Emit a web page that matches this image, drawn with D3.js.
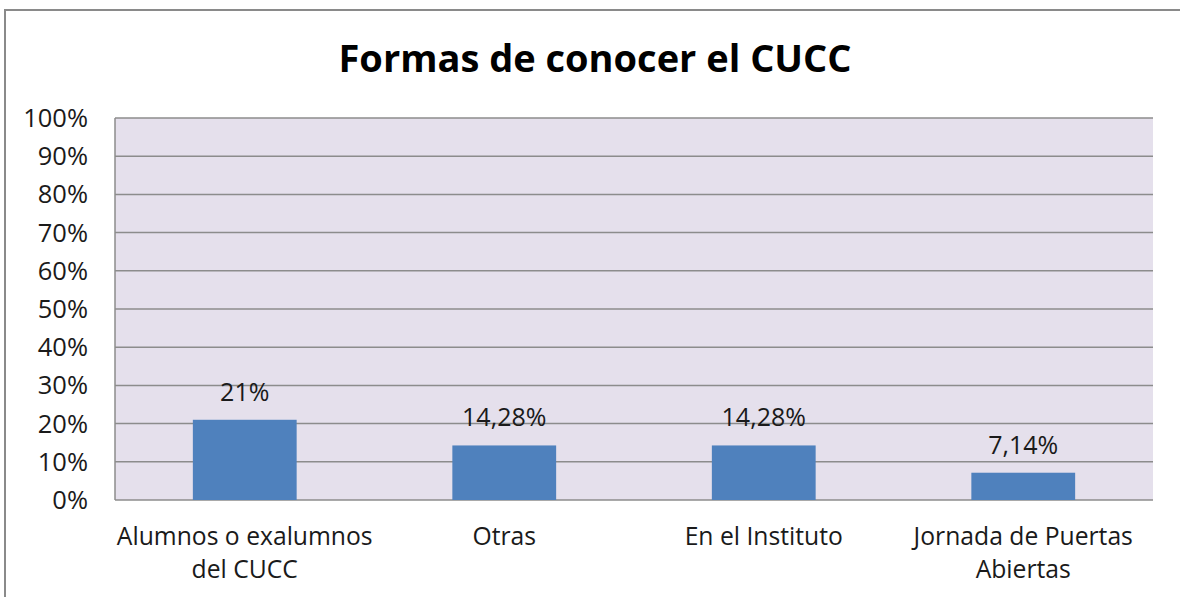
<!DOCTYPE html>
<html>
	<head>
		<meta charset="utf-8">
		<title>Formas de conocer el CUCC</title>
		<script src="https://d3js.org/d3.v7.min.js"></script>
		<style type="text/css">
			body { margin: 0; background: #fff; }
			text { font-family: 'Open Sans', 'Lato', sans-serif; fill: #1a1a1a; }
		</style>
	</head>
	<body>
		<script type="text/javascript">

			var svgWidth = 1180;
			var svgHeight = 597;

			// datos
			var categories = [
				['Alumnos o exalumnos', 'del CUCC'],
				['Otras'],
				['En el Instituto'],
				['Jornada de Puertas', 'Abiertas']
			];
			var values = [21, 14.28, 14.28, 7.14];
			var valueLabels = ['21%', '14,28%', '14,28%', '7,14%'];
			var yTicks = [0, 10, 20, 30, 40, 50, 60, 70, 80, 90, 100];

			var plot = { left: 115, top: 118, right: 1153, bottom: 500 };

			var svg = d3.select('body')
				.append('svg')
				.attr('width', svgWidth)
				.attr('height', svgHeight);

			// marco exterior
			svg.append('rect')
				.attr('x', 5)
				.attr('y', 10)
				.attr('width', svgWidth + 20)
				.attr('height', svgHeight + 20)
				.attr('fill', 'none')
				.attr('stroke', '#8a8a8a')
				.attr('stroke-width', 2);

			svg.append('text')
				.attr('x', 595)
				.attr('y', 72)
				.attr('text-anchor', 'middle')
				.attr('font-size', '38px')
				.attr('font-weight', 'bold')
				.style('fill', '#000')
				.text('Formas de conocer el CUCC');

			var xScale = d3.scaleBand()
				.domain(d3.range(categories.length))
				.range([plot.left, plot.right])
				.paddingInner(0.6)
				.paddingOuter(0.3);

			var yScale = d3.scaleLinear()
				.domain([0, 100])
				.range([plot.bottom, plot.top]);

			svg.append('rect')
				.attr('x', plot.left)
				.attr('y', plot.top)
				.attr('width', plot.right - plot.left)
				.attr('height', plot.bottom - plot.top)
				.attr('fill', '#e5e0ec');

			// lineas de cuadricula
			svg.selectAll('line.grid')
				.data(yTicks)
				.enter()
				.append('line')
				.attr('class', 'grid')
				.attr('x1', plot.left)
				.attr('x2', plot.right)
				.attr('y1', function(d) { return yScale(d); })
				.attr('y2', function(d) { return yScale(d); })
				.attr('stroke', '#8c8c8c')
				.attr('stroke-width', 1.5);

			svg.append('line')
				.attr('x1', plot.left)
				.attr('x2', plot.left)
				.attr('y1', plot.top)
				.attr('y2', plot.bottom)
				.attr('stroke', '#8c8c8c')
				.attr('stroke-width', 1.5);

			svg.selectAll('text.tick')
				.data(yTicks)
				.enter()
				.append('text')
				.attr('class', 'tick')
				.attr('x', 88)
				.attr('y', function(d) { return yScale(d) + 9; })
				.attr('text-anchor', 'end')
				.attr('font-size', '25.5px')
				.text(function(d) { return d + '%'; });

			svg.selectAll('rect.bar')
				.data(values)
				.enter()
				.append('rect')
				.attr('class', 'bar')
				.attr('x', function(d, i) { return xScale(i); })
				.attr('y', function(d) { return yScale(d); })
				.attr('width', xScale.bandwidth())
				.attr('height', function(d) { return plot.bottom - yScale(d); })
				.attr('fill', '#4f81bd');

			svg.selectAll('text.val')
				.data(values)
				.enter()
				.append('text')
				.attr('class', 'val')
				.attr('x', function(d, i) { return xScale(i) + xScale.bandwidth() / 2; })
				.attr('y', function(d) { return yScale(d) - 19; })
				.attr('text-anchor', 'middle')
				.attr('font-size', '25px')
				.text(function(d, i) { return valueLabels[i]; });

			var cat = svg.selectAll('text.cat')
				.data(categories)
				.enter()
				.append('text')
				.attr('class', 'cat')
				.attr('text-anchor', 'middle')
				.attr('font-size', '24.7px');

			cat.selectAll('tspan')
				.data(function(d, i) {
					return d.map(function(s) { return { s: s, i: i }; });
				})
				.enter()
				.append('tspan')
				.attr('x', function(d) { return xScale(d.i) + xScale.bandwidth() / 2; })
				.attr('y', function(d, j) { return 545 + j * 33; })
				.text(function(d) { return d.s; });

		</script>
	</body>
</html>
